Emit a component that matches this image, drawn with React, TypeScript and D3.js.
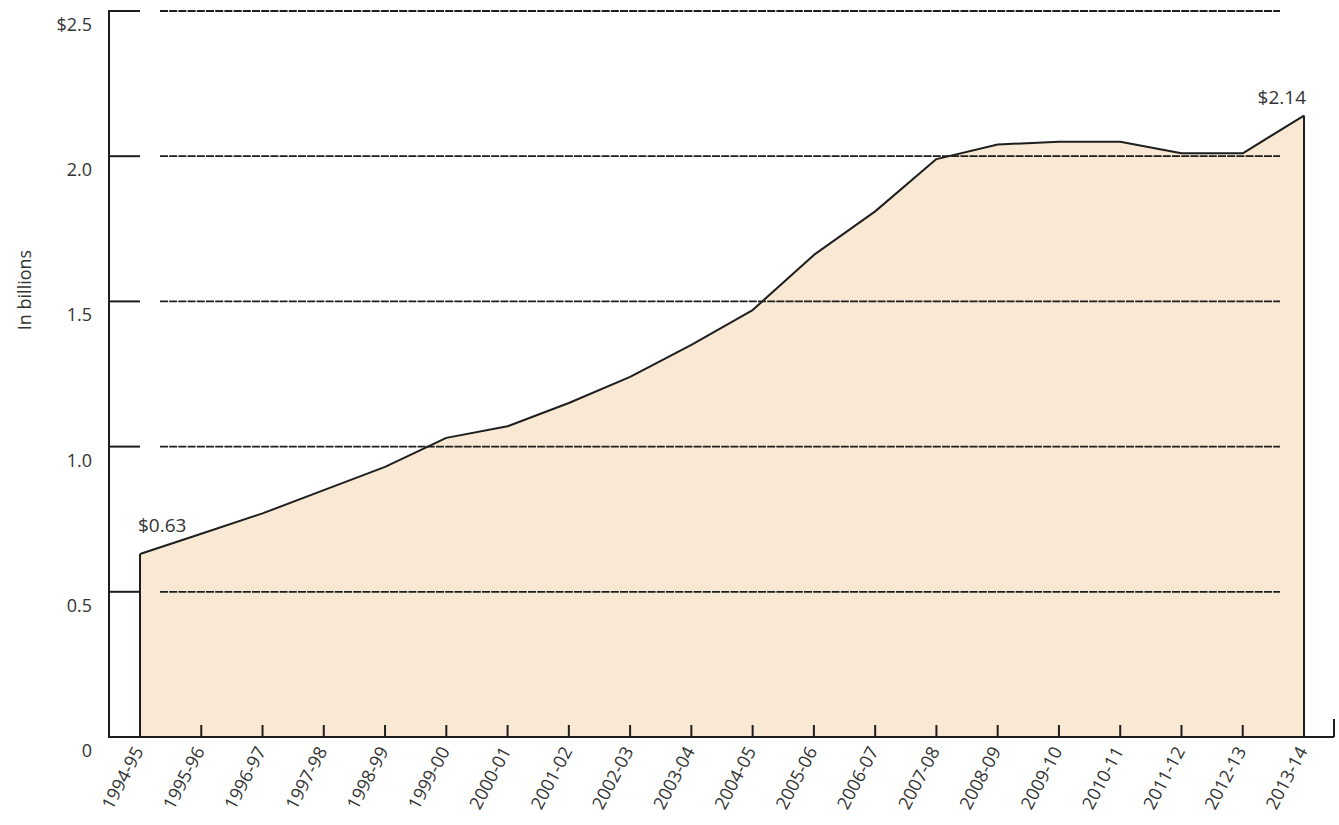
import React from "react";
import * as d3 from "d3";

// Annual amounts, in billions of dollars
const years = [
  "1994-95", "1995-96", "1996-97", "1997-98", "1998-99", "1999-00",
  "2000-01", "2001-02", "2002-03", "2003-04", "2004-05", "2005-06",
  "2006-07", "2007-08", "2008-09", "2009-10", "2010-11", "2011-12",
  "2012-13", "2013-14",
];
const amounts = [
  0.63, 0.70, 0.77, 0.85, 0.93, 1.03, 1.07, 1.15, 1.24, 1.35,
  1.47, 1.66, 1.81, 1.99, 2.04, 2.05, 2.05, 2.01, 2.01, 2.14,
];
const yTicks = [0, 0.5, 1.0, 1.5, 2.0, 2.5];
const yTickLabels = ["0", "0.5", "1.0", "1.5", "2.0", "$2.5"];
const startLabel = "$0.63";
const endLabel = "$2.14";
const axisTitle = "In billions";

const W = 1339;
const H = 825;
const FONT = "'Open Sans', 'Noto Sans', sans-serif";
const INK = "#1e1e1e";
const TEXT = "#333";
const FILL = "#f9e8d3";

export default function App() {
  const axisX = 109;
  const x = d3.scalePoint<string>().domain(years).range([140, 1304]);
  const y = d3.scaleLinear().domain([0, 2.5]).range([737, 11]);

  const data = years.map((yr, i) => ({ yr, v: amounts[i] }));
  const area = d3
    .area<{ yr: string; v: number }>()
    .x((d) => x(d.yr)!)
    .y0(y(0))
    .y1((d) => y(d.v));
  const line = d3
    .line<{ yr: string; v: number }>()
    .x((d) => x(d.yr)!)
    .y((d) => y(d.v));

  const first = data[0];
  const last = data[data.length - 1];
  const x0 = x(first.yr)!;
  const x1 = x(last.yr)!;

  return (
    <svg
      width={W}
      height={H}
      style={{ position: "absolute", left: 0, top: 0, background: "#fff" }}
      fontFamily={FONT}
    >
      {/* filled area under the curve */}
      <path d={area(data)!} fill={FILL} />

      {/* horizontal gridlines and short ticks at the axis */}
      {yTicks.map((t, i) =>
        t === 0 ? null : (
          <g key={"g" + i}>
            <line x1={axisX} x2={x0} y1={y(t)} y2={y(t)} stroke={INK} strokeWidth={2} />
            <line
              x1={160}
              x2={1280}
              y1={y(t)}
              y2={y(t)}
              stroke={INK}
              strokeWidth={1.8}
              strokeDasharray="8 1.2"
            />
          </g>
        )
      )}

      {/* y tick labels */}
      {yTicks.map((t, i) => (
        <text
          key={"yl" + i}
          x={92}
          y={y(t) + 20}
          textAnchor="end"
          fontSize={18}
          fill={TEXT}
        >
          {yTickLabels[i]}
        </text>
      ))}

      {/* axis title */}
      <text
        transform={`translate(31,${(y(0) + y(2.5)) / 2 - 84}) rotate(-90)`}
        textAnchor="middle"
        fontSize={18}
        fill={TEXT}
      >
        {axisTitle}
      </text>

      {/* outline of the series */}
      <path d={line(data)!} fill="none" stroke={INK} strokeWidth={2} strokeLinejoin="round" />
      <line x1={x0} x2={x0} y1={y(0)} y2={y(first.v)} stroke={INK} strokeWidth={2} />
      <line x1={x1} x2={x1} y1={y(0)} y2={y(last.v)} stroke={INK} strokeWidth={2} />

      {/* axes */}
      <line x1={axisX} x2={axisX} y1={y(2.5) - 1} y2={y(0) + 1} stroke={INK} strokeWidth={2} />
      <line x1={axisX} x2={1334} y1={y(0)} y2={y(0)} stroke={INK} strokeWidth={2} />
      <line x1={1334} x2={1334} y1={y(0)} y2={y(0) - 18} stroke={INK} strokeWidth={2} />

      {/* x ticks and rotated category labels */}
      {years.map((yr) => (
        <g key={yr}>
          <line x1={x(yr)!} x2={x(yr)!} y1={y(0)} y2={y(0) - 12} stroke={INK} strokeWidth={2} />
          <text
            transform={`translate(${x(yr)! + 4},${y(0) + 14}) rotate(-62)`}
            textAnchor="end"
            fontSize={18}
            fill={TEXT}
          >
            {yr}
          </text>
        </g>
      ))}

      {/* end-point value labels */}
      <text x={x0 - 2} y={y(first.v) - 22} fontSize={19} fill={TEXT}>
        {startLabel}
      </text>
      <text x={x1 + 2} y={y(last.v) - 12} textAnchor="end" fontSize={19} fill={TEXT}>
        {endLabel}
      </text>
    </svg>
  );
}
